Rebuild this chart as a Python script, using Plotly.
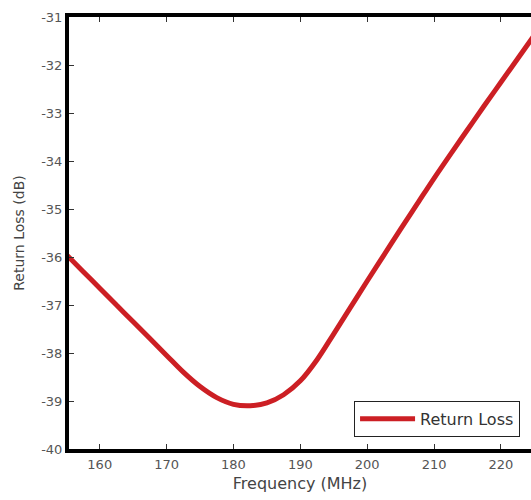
import plotly.graph_objects as go

# Measured return loss across the sweep
freq_mhz = [155, 157.5, 160, 162.5, 165, 167.5, 170, 172.5, 175, 177.5, 180,
            182.5, 185, 187.5, 190, 192.5, 195, 197.5, 200, 202.5, 205, 207.5,
            210, 212.5, 215, 217.5, 220, 222.5, 225]
return_loss_db = [-35.95, -36.3, -36.65, -37.0, -37.35, -37.7, -38.05, -38.4,
                  -38.7, -38.93, -39.07, -39.1, -39.04, -38.87, -38.58, -38.14,
                  -37.6, -37.05, -36.5, -35.96, -35.42, -34.89, -34.36, -33.85,
                  -33.35, -32.85, -32.36, -31.87, -31.38]

x_ticks = [160, 170, 180, 190, 200, 210, 220]
y_ticks = [-31, -32, -33, -34, -35, -36, -37, -38, -39, -40]
y_tick_text = ["-31", "-32", "-33", "-34", "-35", "-36", "-37", "-38", "-39", "-40"]

font_family = "DejaVu Sans, Liberation Sans, Arial, sans-serif"

fig = go.Figure()
fig.add_trace(go.Scatter(
    x=freq_mhz, y=return_loss_db, mode="lines",
    name="Return Loss",
    line=dict(color="#cc1f24", width=5, shape="spline", smoothing=1.0),
))

fig.update_layout(
    width=531, height=500,
    margin=dict(l=69, r=0, t=17, b=51),
    paper_bgcolor="white", plot_bgcolor="white",
    font=dict(family=font_family, size=13, color="#444444"),
    showlegend=True,
    legend=dict(
        x=0.617, y=0.028, xanchor="left", yanchor="bottom",
        bgcolor="white", bordercolor="#222222", borderwidth=1,
        font=dict(size=16, color="#333333"),
        itemwidth=55,
    ),
    xaxis=dict(
        range=[155.4, 224.5], tickvals=x_ticks,
        ticks="inside", ticklen=5, tickwidth=1, tickcolor="#333333",
        showline=True, linecolor="black", linewidth=4, mirror="ticks",
        showgrid=False, zeroline=False,
        title=dict(text="Frequency (MHz)", font=dict(size=16, color="#444444"), standoff=8),
        tickfont=dict(size=13, color="#555555"),
    ),
    yaxis=dict(
        range=[-40, -31], tickvals=y_ticks, ticktext=y_tick_text,
        ticks="inside", ticklen=5, tickwidth=1, tickcolor="#333333",
        showline=True, linecolor="black", linewidth=4, mirror=False,
        showgrid=False, zeroline=False,
        title=dict(text="Return Loss (dB)", font=dict(size=14, color="#444444"), standoff=14),
        tickfont=dict(size=13, color="#555555"),
    ),
)

fig.write_html("out.html")
